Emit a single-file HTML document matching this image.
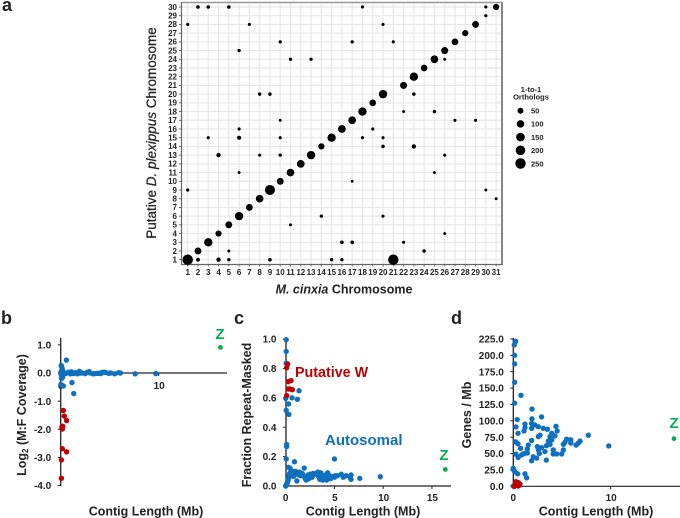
<!DOCTYPE html>
<html>
<head>
<meta charset="utf-8">
<style>
html,body{margin:0;padding:0;background:#fff;width:680px;height:518px;overflow:hidden}
svg{display:block;font-family:"Liberation Sans",sans-serif}
text{fill:#222}
.b{font-weight:700}
</style>
</head>
<body>
<svg id="fig" width="680" height="518" viewBox="0 0 680 518">
<text class="b" x="2" y="11" font-size="18">a</text>
<text class="b" x="1" y="324" font-size="18">b</text>
<text class="b" x="234" y="324" font-size="18">c</text>
<text class="b" x="451" y="324" font-size="18">d</text>
<text transform="translate(156,133) rotate(-90)" text-anchor="middle" font-size="13.5" style="stroke:#222;stroke-width:.25">Putative <tspan font-style="italic">D. plexippus</tspan> Chromosome</text>
<text class="b" x="344" y="293.5" text-anchor="middle" font-size="12.5"><tspan font-style="italic">M. cinxia</tspan> Chromosome</text>
<text class="b" x="531" y="92" text-anchor="middle" font-size="7.5">1-to-1</text>
<text class="b" x="531" y="99.5" text-anchor="middle" font-size="7.5">Orthologs</text>
<text transform="translate(26,415) rotate(-90)" class="b" text-anchor="middle" font-size="12.5">Log<tspan font-size="8" dy="2">2</tspan><tspan dy="-2"> (M:F Coverage)</tspan></text>
<text class="b" x="146" y="515.5" text-anchor="middle" font-size="12.5">Contig Length (Mb)</text>
<text transform="translate(251,415) rotate(-90)" class="b" text-anchor="middle" font-size="12.5">Fraction Repeat-Masked</text>
<text class="b" x="363" y="515.5" text-anchor="middle" font-size="12.5">Contig Length (Mb)</text>
<text transform="translate(471,415) rotate(-90)" class="b" text-anchor="middle" font-size="12.5">Genes / Mb</text>
<text class="b" x="596" y="515.5" text-anchor="middle" font-size="12.5">Contig Length (Mb)</text>
<text class="b" x="295" y="377" font-size="14.3" style="fill:#c00000">Putative W</text>
<text class="b" x="325" y="445" font-size="15" style="fill:#0f70c0">Autosomal</text>
<text class="b" x="220" y="339" text-anchor="middle" font-size="15" style="fill:#00b050">Z</text>
<text class="b" x="444" y="460" text-anchor="middle" font-size="15" style="fill:#00b050">Z</text>
<text class="b" x="674" y="428" text-anchor="middle" font-size="15" style="fill:#00b050">Z</text>
</svg>
<script>
var aChromX = [1,2,3,4,5,6,7,8,9,10,11,12,13,14,15,16,17,18,19,20,22,23,24,25,26,27,28,29,31,
 2,3,5,1,7,10,6,11,13,8,9,10,6,3,6,10,18,30,30,20,17,21,23,26,22,25,27,29,19,18,20,20,23,4,8,10,26,6,25,17,1,30,31,14,20,11,26,16,17,22,24,5,2,4,5,9,15,16,21];
var aChromY = [1,2,3,4,5,6,7,8,9,10,11,12,13,14,15,16,17,18,19,20,21,22,23,24,25,26,27,28,30,
 30,30,30,28,28,26,25,24,24,20,20,17,16,15,15,15,30,30,29,28,26,26,20,24,18,18,17,17,16,15,15,14,14,13,13,13,13,11,11,10,9,9,8,6,6,5,4,3,3,3,2,2,1,1,1,1,1,1,1];
var aCounts = [250,77,136,56,77,136,77,108,225,77,108,108,136,56,136,108,108,136,70,136,84,136,70,108,84,70,56,77,56,
 5,5,5,2,2,3,3,3,3,4,4,1,2,2,10,2,2,2,2,2,3,2,4,1,1,4,2,2,2,2,2,5,14,14,2,3,2,1,1,1,3,1,1,3,2,1,1,6,6,2,4,1,8,14,3,5,3,3,250];
var aTicksX = [1,2,3,4,5,6,7,8,9,10,11,12,13,14,15,16,17,18,19,20,21,22,23,24,25,26,27,28,29,30,31];
var aTicksY = [1,2,3,4,5,6,7,8,9,10,11,12,13,14,15,16,17,18,19,20,21,22,23,24,25,26,27,28,29,30];
var legendCounts = [50,100,150,200,250];

var bTicksY = [1.0,0.0,-1.0,-2.0,-3.0,-4.0];
var bTicksX = [0,10];
var bBlueLen = [0.05,0.1,0.15,0.05,0.1,0.2,0.05,0.3,0.58,1.15,1.33,0.27,0.05,0.12,0.08,0.15,0.45,0.6,0.8,1.0,1.1,1.3,1.5,1.7,1.9,2.0,2.2,2.5,2.7,2.9,3.0,3.3,3.5,3.7,3.9,4.1,4.2,4.4,4.6,4.9,5.1,5.5,5.9,6.1,7.6,9.7];
var bBlueVal = [0.27,0.22,0.12,0.05,-0.1,-0.15,-0.06,0.02,0.46,-0.34,-0.73,-0.46,-0.42,0.08,-0.2,0.15,-0.02,0.0,0.03,-0.03,0.04,-0.02,0.01,-0.03,0.06,0.0,0.0,-0.02,0.03,0.05,0.0,-0.03,-0.02,-0.01,-0.01,-0.02,0.02,0.03,0.02,-0.01,0.0,-0.03,0.01,0.0,-0.03,-0.02];
var bRedLen = [0.27,0.37,0.6,0.2,0.17,0.12,0.17,0.6,0.07,0.07];
var bRedVal = [-1.33,-1.53,-1.69,-1.89,-1.99,-1.93,-2.69,-2.8,-3.09,-3.74];
var bZLen = [16.3];
var bZVal = [0.91];

var cTicksY = [0.0,0.2,0.4,0.6,0.8,1.0];
var cTicksX = [0,5,10,15];
var cBlueLen = [0.05,0.05,0.05,1.37,1.2,0.65,0,0.3,0.05,0.33,0.1,0.1,0.05,0.9,5,0.3,1.9,0.45,0.0,0.05,0.1,0.15,0.2,0.25,0.3,0.35,0.4,0.5,0.6,0.7,0.8,0.9,1.0,1.15,1.2,1.4,1.5,1.7,1.9,2.0,2.1,2.2,2.3,2.4,2.5,2.6,2.7,2.8,3.0,3.2,3.3,3.4,3.5,3.5,3.6,3.7,3.8,3.9,4.0,4.1,4.2,4.3,4.3,4.5,4.6,4.8,5.0,5.1,5.3,5.7,5.9,6.2,6.6,6.7,6.7,7.6,9.7];
var cBlueVal = [0.995,0.915,0.835,0.648,0.59,0.6,0.596,0.558,0.515,0.487,0.283,0.268,0.184,0.165,0.184,0.127,0.122,0.12,0.0,0.005,0.012,0.02,0.03,0.04,0.055,0.07,0.085,0.09,0.08,0.1,0.065,0.09,0.1,0.034,0.08,0.095,0.07,0.085,0.065,0.05,0.04,0.06,0.075,0.05,0.08,0.07,0.06,0.085,0.08,0.09,0.095,0.06,0.045,0.08,0.09,0.07,0.04,0.065,0.055,0.075,0.04,0.09,0.06,0.07,0.05,0.065,0.06,0.07,0.07,0.08,0.06,0.07,0.06,0.075,0.045,0.052,0.063];
var cRedLen = [0.2,0.1,0.27,0.55,0.27,0.68,0.45,0.1];
var cRedVal = [0.83,0.805,0.71,0.717,0.66,0.655,0.66,0.615];
var cZLen = [16.37];
var cZVal = [0.113];

var dTicksY = [0,25,50,75,100,125,150,175,200,225];
var dTicksX = [0,10];
var dBlueLen = [0.24,0.1,0.14,0.14,0.14,0.79,0.14,1.92,2.9,0.4,1.92,1.88,1.2,0.27,1.2,2.2,2.57,1.88,3.08,3.5,4.38,4.5,1.1,0.48,3.95,7.7,2.74,2.57,4.28,3.77,3.95,3.6,1.88,5.48,5.9,5.3,5.14,5.9,6.44,6.85,6.68,0.24,0.48,1.54,3.77,3.4,2.47,2.9,0.75,9.8,1.44,5.14,2.57,4.1,1.1,1.44,0.86,0.27,0.5,2.67,3.25,4.1,4.45,4.97,2.05,2.4,1.88,3.39,0,0.07,0.17,0.45,1.2,1.37,0];
var dBlueVal = [221.5,216,200,187,159,139,127,118,106,102,103,96,95,90.6,89.6,93.7,91,88.6,88.6,87,91.6,84.5,84.5,81,81,78,78,76,77,76,71,69,70,72,71,67,64,66,63,69,66,68,65,63,64,62,60.6,59,58,61.6,57,55.5,55.5,55.5,50,51,48,49,44,50,53,49.4,49.4,49.4,45,43,39,40,27.5,24,22,19,19,13,0.5];
var dRedLen = [0.27,0.5,0.68,0.34,0.2,0.5,0.1,0.6];
var dRedVal = [7,5.6,3.5,3,1,0.5,0,1.5];
var dZLen = [16.5];
var dZVal = [72.8];

var NS = 'http://www.w3.org/2000/svg';
var fig = document.getElementById('fig');

function line(x1, y1, x2, y2, color, w, name) {
  var el = document.createElementNS(NS, 'line');
  el.setAttribute('x1', x1);
  el.setAttribute('y1', y1);
  el.setAttribute('x2', x2);
  el.setAttribute('y2', y2);
  el.setAttribute('stroke', color);
  el.setAttribute('stroke-width', w);
  
  
  fig.appendChild(el);
}
function dot(x, y, r, color, name) {
  var el = document.createElementNS(NS, 'circle');
  el.setAttribute('cx', x);
  el.setAttribute('cy', y);
  el.setAttribute('r', r);
  el.setAttribute('fill', color);
  
  
  fig.appendChild(el);
}
function label(x, y, txt, size, anchor, name) {
  var el = document.createElementNS(NS, 'text');
  el.setAttribute('x', x);
  el.setAttribute('y', y);
  el.setAttribute('font-size', size);
  el.setAttribute('font-weight', '700');
  el.setAttribute('text-anchor', anchor);
  
  
  el.textContent = txt;
  fig.appendChild(el);
}
function radius(n) { return 1.2 + 0.255 * Math.sqrt(n); }

/* Panel a */
function ax(v) { return 187.7 + (v - 1) * 10.28; }
function ay(v) { return 259.7 - (v - 1) * 8.714; }
aTicksX.forEach(function (t) {
  line(ax(t), 3, ax(t), 264, '#e8e8e8', 1.2, 'grid-line-x');
  line(ax(t), 264, ax(t), 266.5, '#444', 0.8, 'x-tick');
  label(ax(t), 275, String(t), 8, 'middle', 'x-tick-label');
});
aTicksY.forEach(function (t) {
  line(182, ay(t), 501, ay(t), '#e8e8e8', 1.2, 'grid-line-y');
  line(179, ay(t), 181.5, ay(t), '#444', 0.8, 'y-tick');
  label(177, ay(t) + 2.8, String(t), 8, 'end', 'y-tick-label');
});
line(181, 2.5, 502.5, 2.5, '#999', 1.6, 'plot-frame-top');
line(502, 2, 502, 264.5, '#888', 2, 'plot-frame-right');
line(181.5, 2, 181.5, 265, '#666', 1.2, 'plot-frame-left');
line(181, 264.5, 503, 264.5, '#666', 1.2, 'plot-frame-bottom');
aChromX.forEach(function (c, i) {
  dot(ax(c), ay(aChromY[i]), radius(aCounts[i]), '#000', 'ortholog-point');
});
var legendRowY = 110.7;
legendCounts.forEach(function (n) {
  dot(520.5, legendRowY, radius(n), '#000', 'legend-size-dot');
  label(531, legendRowY + 2.8, String(n), 7.5, 'start', 'legend-size-label');
  legendRowY += 13.2;
});

/* Shared scatter drawing */
function scatter(p) {
  line(p.x0, p.axisTop, p.x0, p.axisBottom, '#222', 1.3, p.id + '-y-axis');
  line(p.x0 - 0.5, p.xAxisY, p.xEnd, p.xAxisY, '#222', 1.2, p.id + '-x-axis');
  p.ticksY.forEach(function (t) {
    line(p.x0 - 3, p.sy(t), p.x0, p.sy(t), '#222', 1, p.id + '-y-tick');
    label(p.x0 - 9.5, p.sy(t) + 3.6, t.toFixed(1), 10, 'end', p.id + '-y-tick-label');
  });
  p.ticksX.forEach(function (t) {
    line(p.sx(t), p.xAxisY, p.sx(t), p.xAxisY + 3, '#222', 1, p.id + '-x-tick');
    label(p.sx(t) + (t ? 0.5 : 0), p.xLabelY, String(t), 10, 'middle', p.id + '-x-tick-label');
  });
  p.blueLen.forEach(function (v, i) {
    dot(p.sx(v), p.sy(p.blueVal[i]), 2.7, '#0f70c0', p.id + '-autosomal-point');
  });
  p.redLen.forEach(function (v, i) {
    dot(p.sx(v), p.sy(p.redVal[i]), 2.7, '#c00000', p.id + '-putative-w-point');
  });
  p.zLen.forEach(function (v, i) {
    dot(p.sx(v), p.sy(p.zVal[i]), 2.4, '#00b050', p.id + '-z-point');
  });
}
scatter({
  id: 'panel-b', x0: 60.7, xEnd: 227, axisTop: 338, axisBottom: 486, xAxisY: 373, xLabelY: 389,
  sx: function (v) { return 60.7 + v * 9.8; },
  sy: function (v) { return 373 - v * 28.15; },
  ticksY: bTicksY, ticksX: bTicksX,
  blueLen: bBlueLen, blueVal: bBlueVal, redLen: bRedLen, redVal: bRedVal, zLen: bZLen, zVal: bZVal
});
scatter({
  id: 'panel-c', x0: 286, xEnd: 451, axisTop: 337, axisBottom: 486, xAxisY: 486, xLabelY: 501,
  sx: function (v) { return 285.7 + v * 9.75; },
  sy: function (v) { return 486 - v * 147; },
  ticksY: cTicksY, ticksX: cTicksX,
  blueLen: cBlueLen, blueVal: cBlueVal, redLen: cRedLen, redVal: cRedVal, zLen: cZLen, zVal: cZVal
});
scatter({
  id: 'panel-d', x0: 513.3, xEnd: 680, axisTop: 338, axisBottom: 486.5, xAxisY: 486.3, xLabelY: 501,
  sx: function (v) { return 513.3 + v * 9.74; },
  sy: function (v) { return 486.3 - v * 0.6547; },
  ticksY: dTicksY, ticksX: dTicksX,
  blueLen: dBlueLen, blueVal: dBlueVal, redLen: dRedLen, redVal: dRedVal, zLen: dZLen, zVal: dZVal
});
</script>
</body>
</html>
